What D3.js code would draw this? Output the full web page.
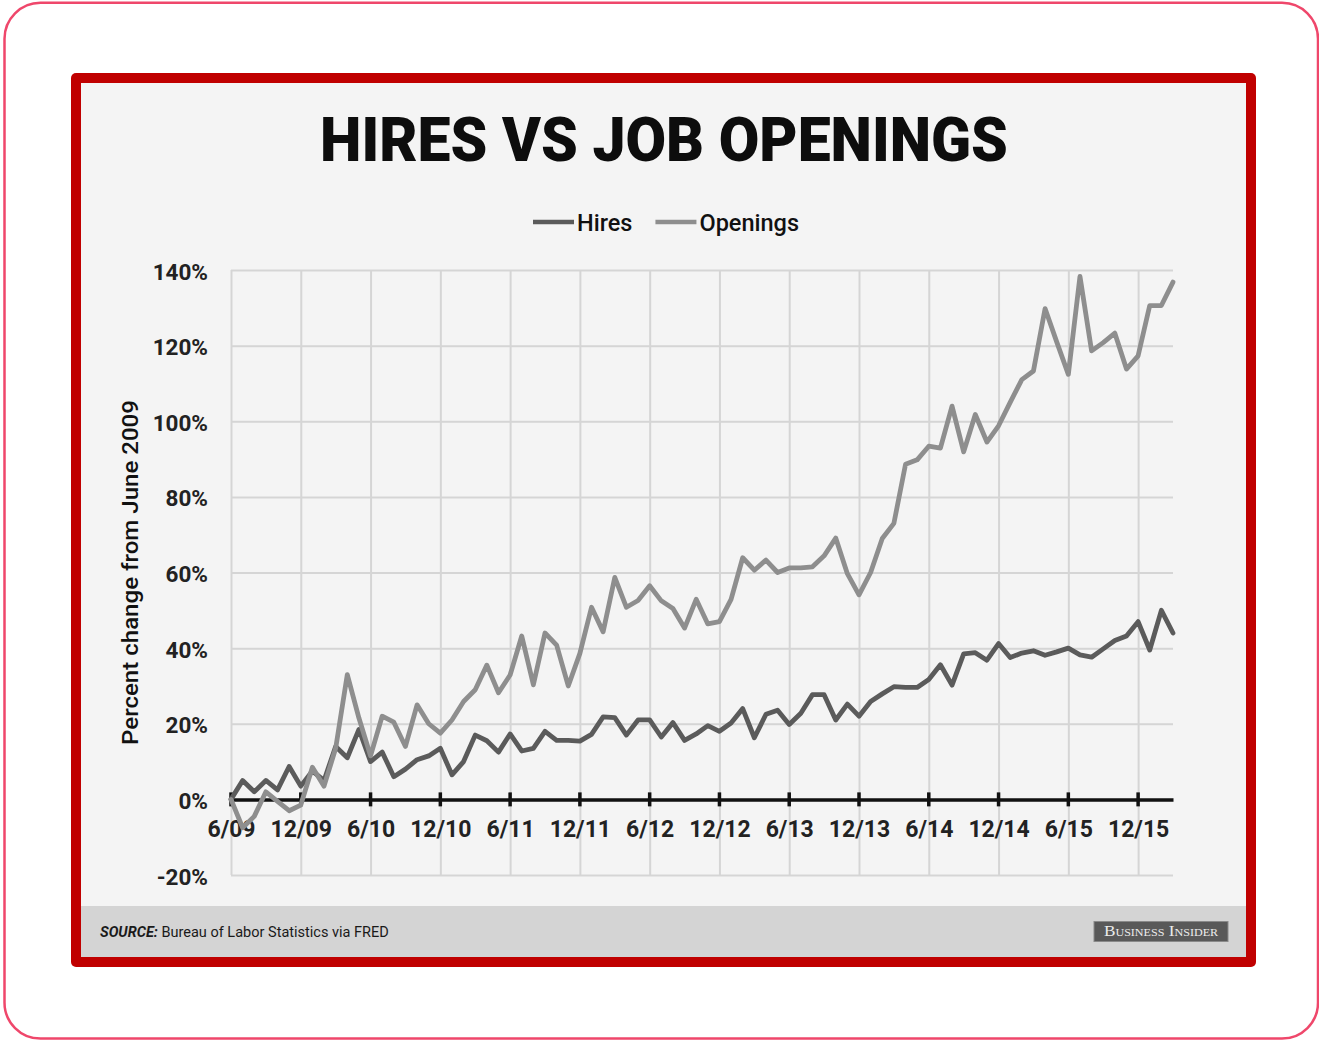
<!DOCTYPE html>
<html><head><meta charset="utf-8">
<script src="https://cdn.jsdelivr.net/npm/d3@7"></script>
<style>html,body{margin:0;padding:0;background:#fff;} svg{display:block;}</style>
</head><body>
<svg id="c" width="1319" height="1041"></svg>
<script>
// ---------- data ----------
const chartTitle = "HIRES VS JOB OPENINGS";
const seriesNames = ["Hires", "Openings"];
// monthly, June 2009 .. March 2016, percent change from June 2009
const hires = [0,5,2,5,2.5,8.7,3.5,7.5,5,14,11,18.5,10,12.5,6,8,10.5,11.5,13.5,6.5,10,17,15.5,12.5,17.3,12.8,13.5,18,15.6,15.6,15.4,17.2,21.8,21.6,17,21,21,16.5,20.3,15.6,17.3,19.5,18,20.2,24,16.3,22.5,23.6,19.8,22.8,27.7,27.7,21,25.2,22,25.9,27.9,29.8,29.6,29.6,31.7,35.6,30.2,38.5,38.8,36.8,41.2,37.5,38.7,39.3,38.1,39,40,38.2,37.6,39.8,42,43.2,47,39.5,50,44];
const openings = [0,-7.5,-4.5,2,-0.5,-3,-1.5,8.5,3.5,13.5,33,21.5,11.5,22,20.4,14,25,20,17.5,21,25.9,29,35.5,28.2,32.9,43.2,30.3,44,40.8,30,38.6,50.8,44.3,58.7,50.8,52.6,56.5,52.5,50.5,45.3,52.9,46.4,47,52.9,63.9,60.6,63.3,60,61.2,61.2,61.5,64.4,69.1,59.7,54.1,60,69,73,88.6,89.8,93.4,92.9,104,91.9,101.8,94.5,98.8,105,111,113.3,129.8,121,112.4,138.3,118.6,120.8,123.3,113.8,117.3,130.6,130.6,136.8];
const xTickLabels = ["6/09","12/09","6/10","12/10","6/11","12/11","6/12","12/12","6/13","12/13","6/14","12/14","6/15","12/15"];
const xTickMonths = [0,6,12,18,24,30,36,42,48,54,60,66,72,78];
const yTickValues = [-20,0,20,40,60,80,100,120,140];
const yTitle = "Percent change from June 2009";
const sourceLabel = "SOURCE:";
const sourceText = " Bureau of Labor Statistics via FRED";
const brandText = "Business Insider";

// ---------- drawing ----------
const svg = d3.select("#c");
const FONT = "Roboto, 'Noto Sans', sans-serif";
const colors = {Hires: "#5b5b5b", Openings: "#8e8e8e"};

// outer rounded pink border
svg.append("rect").attr("x", 4.5).attr("y", 2.8).attr("width", 1313.5).attr("height", 1035.8)
  .attr("rx", 36).attr("fill", "#fff").attr("stroke", "#ef476b").attr("stroke-width", 2.5);
// red frame
svg.append("rect").attr("x", 71).attr("y", 73).attr("width", 1185).attr("height", 894)
  .attr("rx", 5).attr("fill", "#c00000");
svg.append("rect").attr("x", 81).attr("y", 83).attr("width", 1165).attr("height", 874)
  .attr("fill", "#f4f4f4");
// footer
svg.append("rect").attr("x", 81).attr("y", 906).attr("width", 1165).attr("height", 51)
  .attr("fill", "#d4d4d4");

const x = d3.scaleLinear().domain([0, hires.length - 1]).range([231, 1173]);
const y = d3.scaleLinear().domain([-20, 140]).range([875, 270]);
const [x0, x1] = x.range();
const [yb, yt] = y.range();

// vertical gridlines
svg.append("g").attr("transform", `translate(0,${yb})`)
  .call(d3.axisBottom(x).tickValues(xTickMonths).tickSize(-(yb - yt)).tickFormat(""))
  .call(g => g.select(".domain").remove())
  .call(g => g.selectAll(".tick line").attr("stroke", "#d5d5d5").attr("stroke-width", 2));

// horizontal gridlines + y labels
svg.append("g").attr("transform", `translate(${x0},0)`)
  .call(d3.axisLeft(y).tickValues(yTickValues).tickSize(-(x1 - x0)).tickPadding(23).tickFormat(d => d + "%"))
  .call(g => g.select(".domain").remove())
  .call(g => g.selectAll(".tick line").attr("stroke", d => d === 0 ? "none" : "#d5d5d5").attr("stroke-width", 2))
  .call(g => g.selectAll(".tick text").attr("font-family", FONT).attr("font-size", 22.5)
        .attr("font-weight", 700).attr("fill", "#222").attr("dy", "0.4em"));

// zero axis with labels
const zeroY = y(0);
svg.append("g").attr("transform", `translate(0,${zeroY})`)
  .call(d3.axisBottom(x).tickValues(xTickMonths).tickSize(0).tickPadding(21)
        .tickFormat((d, i) => xTickLabels[i]))
  .call(g => g.select(".domain").attr("stroke", "#111").attr("stroke-width", 3.5))
  .call(g => g.selectAll(".tick text").attr("font-family", FONT).attr("font-size", 23)
        .attr("font-weight", 700).attr("fill", "#222"));
svg.append("g").selectAll("line").data(xTickMonths).join("line")
  .attr("x1", d => x(d)).attr("x2", d => x(d))
  .attr("y1", zeroY - 7).attr("y2", zeroY + 7)
  .attr("stroke", "#111").attr("stroke-width", 3.5);

// lines
const line = d3.line().x((d, i) => x(i)).y(d => y(d));
[["Hires", hires], ["Openings", openings]].forEach(([name, vals]) => {
  svg.append("path").datum(vals).attr("d", line).attr("fill", "none")
    .attr("stroke", colors[name]).attr("stroke-width", 4.8)
    .attr("stroke-linejoin", "round").attr("stroke-linecap", "round");
});

// helper: horizontal scale factor to reach target width
function fitWidth(sel, target) {
  const w = sel.node().getComputedTextLength();
  return target / w;
}

// title
const t = svg.append("text").attr("font-family", FONT).attr("font-size", 62)
  .attr("font-weight", 900).attr("fill", "#0d0d0d").attr("text-anchor", "middle").text(chartTitle);
const ts = fitWidth(t, 688);
t.attr("transform", `translate(664,161) scale(${ts},1)`);

// legend
const lg = svg.append("g");
let cx = 0;
seriesNames.forEach((name, i) => {
  if (i > 0) cx += 23;
  lg.append("line").attr("x1", cx).attr("x2", cx + 41).attr("y1", 0).attr("y2", 0)
    .attr("stroke", colors[name]).attr("stroke-width", 4.5);
  const tx = lg.append("text").attr("x", cx + 44).attr("y", 8.5).attr("font-family", FONT)
    .attr("font-size", 23.5).attr("font-weight", 500).attr("fill", "#111").text(name);
  cx += 44 + tx.node().getComputedTextLength();
});
lg.attr("transform", `translate(${666 - cx / 2},222)`);

// y title
const yt2 = svg.append("text").attr("font-family", FONT).attr("font-size", 22)
  .attr("font-weight", 500).attr("fill", "#111").attr("text-anchor", "middle").text(yTitle);
const ys = fitWidth(yt2, 345);
yt2.attr("transform", `translate(137.5,572.5) rotate(-90) scale(${ys},1)`);

// source
const st = svg.append("text").attr("font-family", FONT).attr("font-size", 14.5).attr("fill", "#1a1a1a");
st.append("tspan").attr("font-weight", 700).attr("font-style", "italic").text(sourceLabel);
st.append("tspan").text(sourceText);
const ss = fitWidth(st, 289);
st.attr("transform", `translate(100,937) scale(${ss},1)`);

// brand box
svg.append("rect").attr("x", 1094).attr("y", 921.5).attr("width", 134).attr("height", 20)
  .attr("fill", "#595959").attr("stroke", "#8a8a8a").attr("stroke-width", 1);
const bt = svg.append("text").attr("font-family", "'Liberation Serif', 'DejaVu Serif', serif")
  .attr("font-size", 14).attr("fill", "#ececec").attr("text-anchor", "middle")
  .style("font-variant", "small-caps").text(brandText);
const bs = fitWidth(bt, 116);
bt.attr("transform", `translate(1161,936) scale(${bs},1)`);
</script>
</body></html>
